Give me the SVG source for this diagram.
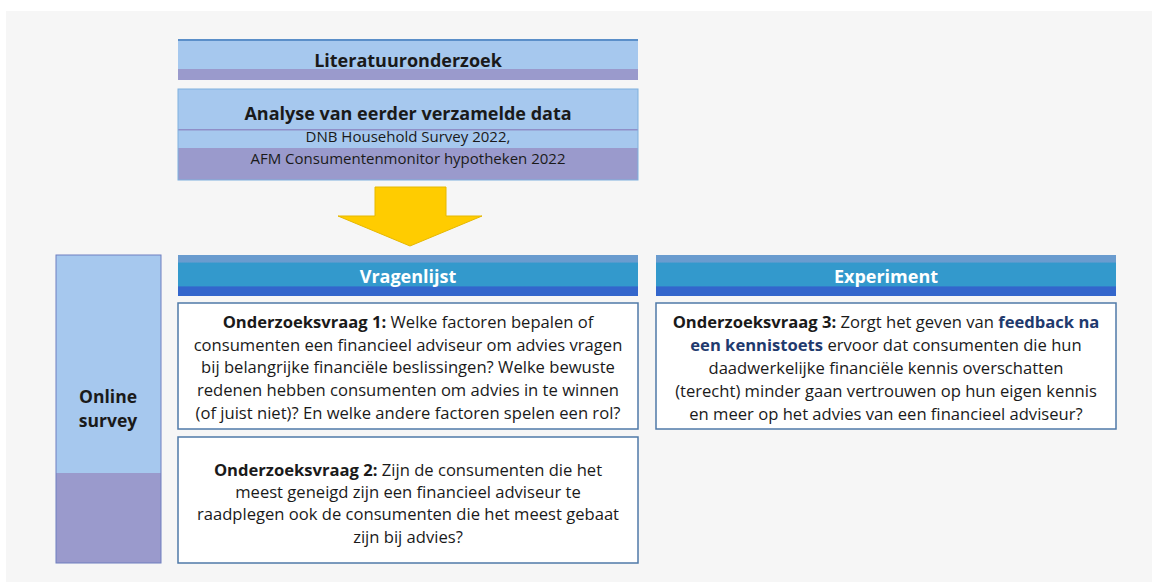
<svg xmlns="http://www.w3.org/2000/svg" width="1152" height="582" viewBox="0 0 1152 582">
<defs>
<style>
.t{font-family:"Open Sans","Liberation Sans",sans-serif;fill:#1a1a1a;text-anchor:middle}
.b{font-weight:bold}
.h{font-family:"Open Sans","Liberation Sans",sans-serif;font-weight:bold;fill:#ffffff;text-anchor:middle;font-size:18px}
.q{font-size:16.6px}
.kw{font-weight:bold;fill:#1f3a6e}
.box{fill:#ffffff;stroke:#4f79a8;stroke-width:1.5}
.lb{fill:#a6c8ee}
.pu{fill:#9a9acc}
</style>
<linearGradient id="hdr" x1="0" y1="0" x2="0" y2="1">
<stop offset="0" stop-color="#6a9ccf"/>
<stop offset="0.17" stop-color="#6a9ccf"/>
<stop offset="0.2" stop-color="#3399cc"/>
<stop offset="0.75" stop-color="#3399cc"/>
<stop offset="0.78" stop-color="#3366cc"/>
<stop offset="1" stop-color="#3366cc"/>
</linearGradient>
</defs>
<rect x="0" y="0" width="1152" height="582" fill="#ffffff"/>
<rect x="6" y="11" width="1146" height="571" fill="#f6f6f6"/>

<g id="literatuur">
<rect class="lb" x="178" y="39" width="460" height="41"/>
<rect class="pu" x="178" y="69" width="460" height="11"/>
<rect x="178" y="39" width="460" height="2" fill="#5b8fc9"/>
<text class="t b" x="408" y="67" font-size="18">Literatuuronderzoek</text>
</g>

<g id="analyse">
<rect class="lb" x="178" y="89" width="460" height="91"/>
<rect class="pu" x="178" y="148" width="460" height="32"/>
<rect x="178" y="129" width="460" height="1.5" fill="#8f8fc8"/>
<rect x="178" y="89" width="460" height="91" fill="none" stroke="#7fb0dd" stroke-width="1"/>
<text class="t b" x="408" y="120" font-size="18">Analyse van eerder verzamelde data</text>
<text class="t" x="408" y="142" font-size="15">DNB Household Survey 2022,</text>
<text class="t" x="408" y="164" font-size="15">AFM Consumentenmonitor hypotheken 2022</text>
</g>

<g id="connectors">
<polygon points="375,187 446,187 446,216 482,216 410,246 338,216 375,216" fill="#ffcc00" stroke="#e6b800" stroke-width="1"/>
</g>

<g id="online-survey">
<rect class="lb" x="56" y="255" width="105" height="308"/>
<rect class="pu" x="56" y="473" width="105" height="90"/>
<rect x="56" y="255" width="105" height="308" fill="none" stroke="#6f7fbf" stroke-width="1"/>
<text class="t b" x="108" y="403" font-size="17.5">Online</text>
<text class="t b" x="108" y="427" font-size="17.5">survey</text>
</g>

<g id="vragenlijst">
<rect x="178" y="255" width="460" height="41" fill="url(#hdr)"/>
<text class="h" x="408" y="283">Vragenlijst</text>
</g>

<g id="experiment">
<rect x="656" y="255" width="460" height="41" fill="url(#hdr)"/>
<text class="h" x="886" y="283">Experiment</text>
</g>

<g id="vraag1">
<rect class="box" x="178" y="303" width="460" height="126"/>
<text class="t q" x="408" y="328"><tspan class="b">Onderzoeksvraag 1:</tspan> Welke factoren bepalen of</text>
<text class="t q" x="408" y="351">consumenten een financieel adviseur om advies vragen</text>
<text class="t q" x="408" y="373">bij belangrijke financiële beslissingen? Welke bewuste</text>
<text class="t q" x="408" y="396">redenen hebben consumenten om advies in te winnen</text>
<text class="t q" x="408" y="419">(of juist niet)? En welke andere factoren spelen een rol?</text>
</g>

<g id="vraag2">
<rect class="box" x="178" y="437" width="460" height="126"/>
<text class="t q" x="408" y="476"><tspan class="b">Onderzoeksvraag 2:</tspan> Zijn de consumenten die het</text>
<text class="t q" x="408" y="498">meest geneigd zijn een financieel adviseur te</text>
<text class="t q" x="408" y="520">raadplegen ook de consumenten die het meest gebaat</text>
<text class="t q" x="408" y="543">zijn bij advies?</text>
</g>

<g id="vraag3">
<rect class="box" x="656" y="303" width="460" height="126"/>
<text class="t q" x="886" y="328"><tspan class="b">Onderzoeksvraag 3:</tspan> Zorgt het geven van <tspan class="kw">feedback na</tspan></text>
<text class="t q" x="886" y="351"><tspan class="kw">een kennistoets</tspan> ervoor dat consumenten die hun</text>
<text class="t q" x="886" y="374">daadwerkelijke financiële kennis overschatten</text>
<text class="t q" x="886" y="397">(terecht) minder gaan vertrouwen op hun eigen kennis</text>
<text class="t q" x="886" y="420">en meer op het advies van een financieel adviseur?</text>
</g>
</svg>
